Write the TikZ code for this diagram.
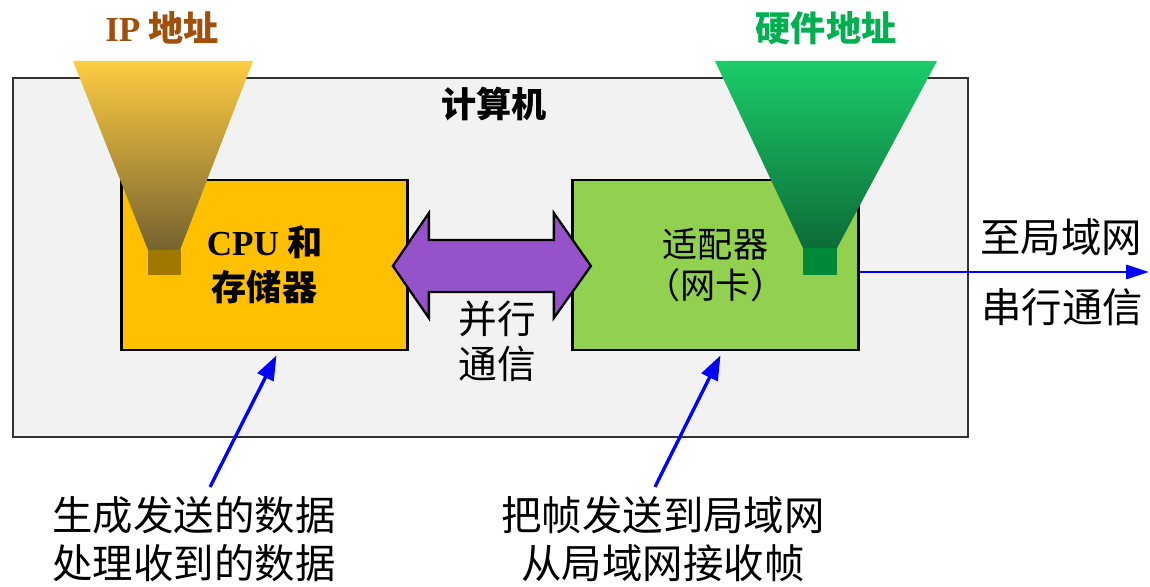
\documentclass[tikz,border=0pt]{standalone}
\usepackage{fontspec}
\setmainfont{Noto Sans CJK SC}
\newfontfamily\tms{Liberation Serif}
\usetikzlibrary{arrows.meta}

\definecolor{fondo}{HTML}{F2F2F2}
\definecolor{amarillo}{HTML}{FFC000}
\definecolor{verde}{HTML}{92D050}
\definecolor{morado}{HTML}{9652C8}
\definecolor{marron}{HTML}{A0500A}
\definecolor{verdetxt}{HTML}{00B050}
\definecolor{ipsup}{HTML}{FDCC42}
\definecolor{ipmed}{HTML}{DEB23E}
\definecolor{ipinf}{HTML}{77622F}
\definecolor{ipcuadro}{HTML}{A07800}
\definecolor{hwsup}{HTML}{1ACC6A}
\definecolor{hwmed}{HTML}{16AE5A}
\definecolor{hwinf}{HTML}{0E6B38}
\definecolor{hwcuadro}{HTML}{008A38}

\begin{document}
\begin{tikzpicture}[x=0.02cm, y=-0.02cm,
  every node/.style={inner sep=0pt, align=center},
  caja/.style={rectangle, draw, line width=1.6pt, minimum width=5.72cm, minimum height=3.4cm},
  texto/.style={font=\fontsize{23}{27}\selectfont},
  flecha/.style={draw=blue, line width=1.9pt, -{Triangle[length=14pt, width=10pt]}}]
\useasboundingbox (0,0) rectangle (1150,587);

% computer
\node[draw=black!80, line width=0.8pt, fill=fondo, minimum width=19.1cm, minimum height=7.18cm] (pc) at (490.5,257.5) {};
\node[font=\fontsize{20}{24}\selectfont\bfseries] (titulo) at (494,104) {计算机};

\node[caja, fill=amarillo, font=\fontsize{20}{25.5}\selectfont\bfseries] (cpu) at (264.5,265) {{\tms CPU} 和\\存储器};
\node[caja, fill=verde, font=\fontsize{20}{23.5}\selectfont] (nic) at (715.5,265) {适配器\\（网卡）};

% funnels
\shade[top color=ipsup, middle color=ipmed, bottom color=ipinf] (73,61) -- (253,61) -- (180,250) -- (148,250) -- cycle;
\fill[ipcuadro] (148,250) rectangle (181,275);
\shade[top color=hwsup, middle color=hwmed, bottom color=hwinf] (715,61) -- (937,61) -- (837,248) -- (803,248) -- cycle;
\fill[hwcuadro] (803,248) rectangle (837,275);

\node[text=marron, font=\fontsize{20}{24}\selectfont\bfseries] (ip) at (162,28) {{\tms IP} 地址};
\node[text=verdetxt, font=\fontsize{20}{24}\selectfont\bfseries] (hw) at (826,28) {硬件地址};

% parallel link
\draw[line width=1.3pt, fill=morado, line join=miter] ([shift={(-16,1)}]cpu.east) -- ++(36,-53) -- ++(0,27) -- ++(125,0) -- ++(0,-27) -- ++(37,53) -- ++(-37,52) -- ++(0,-26) -- ++(-125,0) -- ++(0,26) -- cycle;
\node[font=\fontsize{22}{25.5}\selectfont] (paralelo) at (497,341) {并行\\通信};

% serial link
\coordinate (lan) at (1149,272);
\draw[flecha, line width=1.6pt, -{Triangle[length=13pt, width=8pt]}] ([shift={(0,7)}]nic.east) -- (lan);
\node[texto] (lan1) at (1061,237) {至局域网};
\node[texto] (lan2) at (1062,307) {串行通信};

% notes
\node[texto] (nota1) at (194,539) {生成发送的数据\\处理收到的数据};
\node[texto] (nota2) at (663,539) {把帧发送到局域网\\从局域网接收帧};
\draw[flecha] ([shift={(16,-52)}]nota1.center) -- ([shift={(12,4)}]cpu.south);
\draw[flecha] ([shift={(-8,-52)}]nota2.center) -- ([shift={(5,4)}]nic.south);
\end{tikzpicture}
\end{document}
